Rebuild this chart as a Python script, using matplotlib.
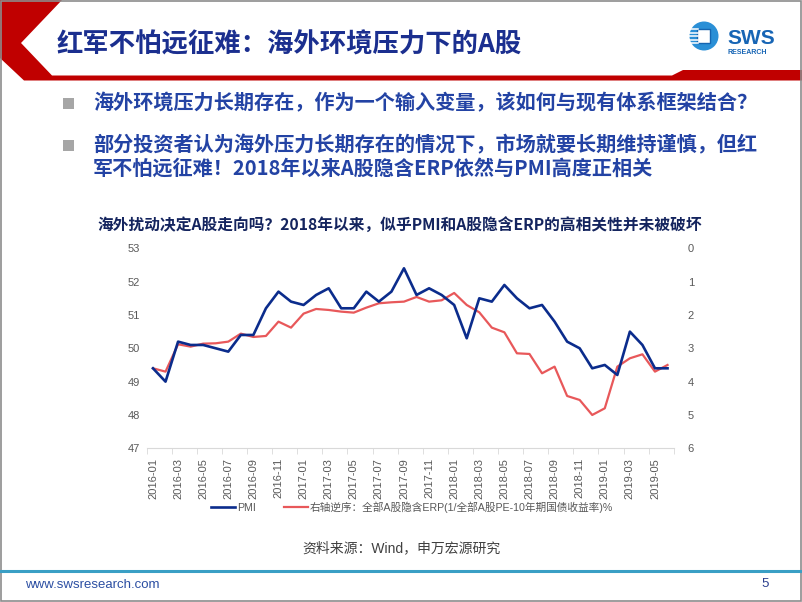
import matplotlib
matplotlib.use('Agg')
import matplotlib.pyplot as plt
import pandas as pd
from matplotlib.patches import Polygon, Rectangle, Circle
from matplotlib.lines import Line2D

plt.rcParams['font.family'] = ['Liberation Sans', 'Noto Sans CJK SC']

# data
months = pd.date_range('2016-01', periods=42, freq='MS').strftime('%Y-%m').tolist()
pmi = [49.4, 49.0, 50.2, 50.1, 50.1, 50.0, 49.9, 50.4, 50.4, 51.2, 51.7, 51.4,
       51.3, 51.6, 51.8, 51.2, 51.2, 51.7, 51.4, 51.7, 52.4, 51.6, 51.8, 51.6,
       51.3, 50.3, 51.5, 51.4, 51.9, 51.5, 51.2, 51.3, 50.8, 50.2, 50.0, 49.4,
       49.5, 49.2, 50.5, 50.1, 49.4, 49.4]
erp = [3.60, 3.70, 2.88, 2.95, 2.86, 2.85, 2.80, 2.56, 2.66, 2.63, 2.20, 2.38,
       1.96, 1.82, 1.85, 1.90, 1.93, 1.78, 1.65, 1.62, 1.60, 1.46, 1.60, 1.56,
       1.34, 1.70, 1.92, 2.38, 2.52, 3.15, 3.17, 3.75, 3.55, 4.43, 4.55, 5.00,
       4.80, 3.55, 3.30, 3.18, 3.70, 3.50]
left_ticks = [47, 48, 49, 50, 51, 52, 53]
right_ticks = [0, 1, 2, 3, 4, 5, 6]

title = '红军不怕远征难：海外环境压力下的A股'
bullets = ['海外环境压力长期存在，作为一个输入变量，该如何与现有体系框架结合？',
           '部分投资者认为海外压力长期存在的情况下，市场就要长期维持谨慎，但红',
           '军不怕远征难！2018年以来A股隐含ERP依然与PMI高度正相关']
chart_title = '海外扰动决定A股走向吗？2018年以来，似乎PMI和A股隐含ERP的高相关性并未被破坏'
erp_label = '右轴逆序：全部A股隐含ERP(1/全部A股PE-10年期国债收益率)%'
source = '资料来源：Wind，申万宏源研究'

W, H = 802, 602
fig = plt.figure(figsize=(W / 100, H / 100), dpi=100)

# slide background in pixel coords
bg = fig.add_axes([0, 0, 1, 1])
bg.set_xlim(0, W)
bg.set_ylim(H, 0)
bg.axis('off')

red = '#c00000'
bg.add_patch(Polygon([(0, 0), (62, 0), (21, 43), (52, 75.5), (672, 75.5), (683, 70),
                      (W, 70), (W, 80.5), (24, 80.5), (0, 58)],
                     closed=True, color=red, lw=0))
bg.add_patch(Rectangle((0.5, 0.5), W - 1.5, H - 1.5, fill=False, ec='#8c8c8c', lw=1.2))

cjk = ['Noto Sans CJK SC', 'DejaVu Sans']
bg.text(57, 45, title, fontsize=19, fontweight='bold', color='#1b2f8f',
        va='center', ha='left', family=cjk)

# logo
bg.add_patch(Circle((704, 36), 14.5, color='#2a8fd6', lw=0))
for yy in [29, 32.5, 36, 39.5, 43]:
    bg.add_line(Line2D([689, 698], [yy, yy], color='white', lw=1.1))
bg.add_patch(Rectangle((697, 29), 13, 14, facecolor='white', edgecolor='#1565b0', lw=1))
bg.text(727, 38, 'SWS', fontsize=15, fontweight='bold', color='#1765b5',
        va='center', ha='left', family=['Liberation Sans'])
bg.text(728, 53, 'RESEARCH', fontsize=5, fontweight='bold', color='#1765b5',
        va='center', ha='left', family=['Liberation Sans'])

# bullets
blue_txt = '#2343a4'
for yy in [103, 145]:
    bg.add_patch(Rectangle((63, yy - 5.5), 11, 11, color='#a6a6a6', lw=0))
for yy, s in zip([103, 145, 168], bullets):
    bg.text(93, yy, s, fontsize=14.5, fontweight='bold', color=blue_txt,
            va='center', ha='left', family=cjk)

bg.text(97, 226, chart_title, fontsize=11.3, fontweight='bold', color='#14245e',
        va='center', ha='left', family=cjk)

bg.text(401, 548, source, fontsize=10, color='#404040', va='center', ha='center')
bg.add_line(Line2D([0, W], [571, 571], color='#3a9fc5', lw=2.2))
bg.text(25, 585, 'www.swsresearch.com', fontsize=9.5, color='#2b4ea2',
        va='center', ha='left')
bg.text(765, 584, '5', fontsize=9.5, color='#2b3f8f', va='center', ha='center')

# chart
x0, x1, y0, y1 = 146.7, 673.8, 248.3, 448.3
ax = fig.add_axes([x0 / W, (H - y1) / H, (x1 - x0) / W, (y1 - y0) / H])
ax.patch.set_alpha(0)
ax2 = ax.twinx()

xs = list(range(len(months)))
l1, = ax.plot(xs, pmi, color='#0b2c8c', lw=1.9, label='PMI', zorder=3)
l2, = ax2.plot(xs, erp, color='#e8585a', lw=1.6, label=erp_label)
ax.set_zorder(ax2.get_zorder() + 1)

ax.set_xlim(-0.5, len(months) - 0.5)
ax.set_ylim(47, 53)
ax.set_yticks(left_ticks)
ax2.set_ylim(6, 0)
ax2.set_yticks(right_ticks)

ax.set_xticks(xs[::2])
ax.set_xticklabels(months[::2], rotation=90)
ax.set_xticks([i - 0.5 for i in xs[::2]] + [len(months) - 0.5], minor=True)
ax.tick_params(axis='x', which='major', length=0, pad=7, labelsize=8, labelcolor='#595959')
ax.tick_params(axis='x', which='minor', length=4, color='#d9d9d9')
ax.tick_params(axis='y', length=0, pad=5, labelsize=8, labelcolor='#595959')
ax2.tick_params(axis='y', length=0, pad=10, labelsize=8, labelcolor='#595959')

for a in (ax, ax2):
    for sp in a.spines.values():
        sp.set_visible(False)
ax.spines['bottom'].set_visible(True)
ax.spines['bottom'].set_color('#d9d9d9')

fig.legend([l1, l2], ['PMI', erp_label], loc='center', ncol=2,
           bbox_to_anchor=(412 / W, (H - 507) / H), frameon=False, fontsize=7.7,
           labelcolor='#595959', handlelength=2.3, handletextpad=0.15, columnspacing=2.6)

fig.savefig('out.png', dpi=100)
